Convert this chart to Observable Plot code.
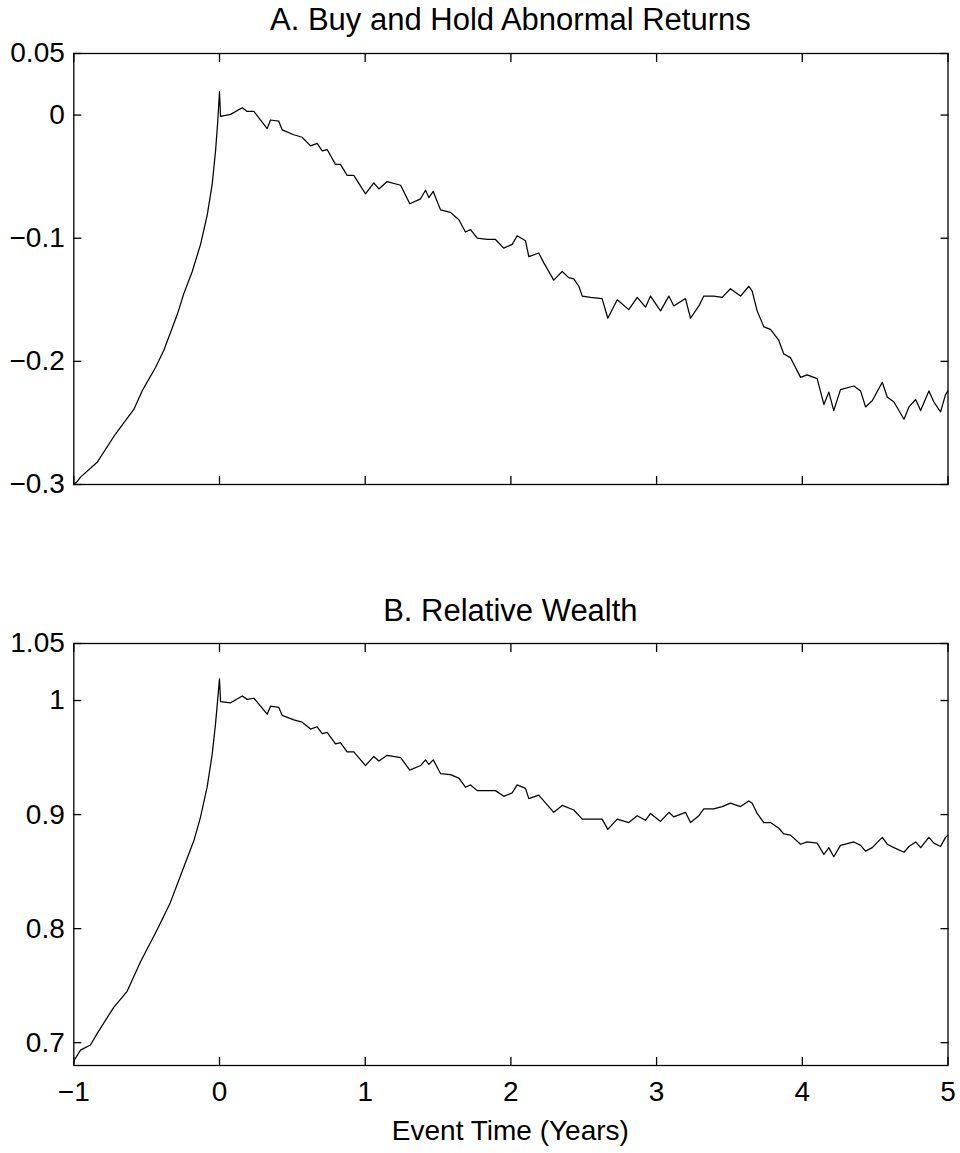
<!DOCTYPE html>
<html>
<head>
<meta charset="utf-8">
<script src="https://cdn.jsdelivr.net/npm/d3@7"></script>
<script src="https://cdn.jsdelivr.net/npm/@observablehq/plot@0.6"></script>
<style>
  body { margin: 0; background: #fff; }
  #wrap { position: relative; width: 960px; height: 1153px; font-family: 'Liberation Sans', Arial, sans-serif; color: #000; background: #fff; }
  .ttl { position: absolute; left: 73.3px; width: 874.2px; text-align: center; font-size: 31px; line-height: 31px; white-space: nowrap; z-index: 2; }
  .panel { position: absolute; left: 0; z-index: 1; }
</style>
</head>
<body>
<div id="wrap">
  <div class="ttl" id="titleA" style="top:4px"></div>
  <div class="panel" id="panelA" style="top:40px"></div>
  <div class="ttl" id="titleB" style="top:595px"></div>
  <div class="panel" id="panelB" style="top:620px"></div>
  <div class="ttl" id="xlabel" style="top:1117px; font-size:28px; line-height:28px"></div>
</div>
<script>
// ---- text ----
const titleA = "A. Buy and Hold Abnormal Returns";
const titleB = "B. Relative Wealth";
const xLabel = "Event Time (Years)";

// ---- ticks ----
const xTicks = [-1, 0, 1, 2, 3, 4, 5];
const xTickLabels = ["\u22121", "0", "1", "2", "3", "4", "5"];
const yTicksA = [-0.3, -0.2, -0.1, 0, 0.05];
const yTickLabelsA = ["\u22120.3", "\u22120.2", "\u22120.1", "0", "0.05"];
const yTicksB = [0.7, 0.8, 0.9, 1, 1.05];
const yTickLabelsB = ["0.7", "0.8", "0.9", "1", "1.05"];

// ---- Panel A: buy and hold abnormal returns ----
const timeA = [-1.00,-0.98,-0.954,-0.84,-0.714,-0.588,-0.531,-0.439,-0.382,-0.29,-0.245,-0.187,-0.130,-0.084,-0.05,-0.027,-0.012,0.0,
  0.007,0.076,0.156,0.19,0.236,0.327,0.35,0.407,0.430,0.51,0.567,0.625,0.67,0.705,0.739,0.796,0.83,0.876,0.922,
  1.002,1.059,1.094,1.151,1.243,1.306,1.38,1.414,1.437,1.467,1.517,1.585,1.643,1.688,1.723,1.769,1.837,1.894,1.951,
  2.009,2.043,2.1,2.123,2.191,2.226,2.294,2.352,2.397,2.432,2.466,2.49,2.546,2.626,2.665,2.73,2.809,2.867,2.924,2.958,
  3.027,3.084,3.118,3.198,3.233,3.29,3.324,3.392,3.45,3.507,3.576,3.633,3.656,3.690,3.736,3.782,3.839,3.873,3.919,3.988,
  4.033,4.102,4.148,4.182,4.216,4.262,4.354,4.40,4.434,4.48,4.549,4.583,4.629,4.698,4.732,4.778,4.812,4.869,4.903,4.949,4.983,5.0];
const bharA = [-0.300,-0.298,-0.294,-0.282,-0.259,-0.239,-0.224,-0.205,-0.191,-0.162,-0.145,-0.127,-0.105,-0.081,-0.056,-0.029,-0.005,0.019,
  -0.001,0.0006,0.006,0.003,0.003,-0.011,-0.004,-0.005,-0.012,-0.016,-0.018,-0.025,-0.023,-0.029,-0.028,-0.040,-0.040,-0.049,-0.049,
  -0.064,-0.055,-0.060,-0.054,-0.057,-0.072,-0.068,-0.061,-0.067,-0.062,-0.077,-0.079,-0.085,-0.095,-0.093,-0.100,-0.101,-0.101,-0.108,
  -0.105,-0.098,-0.102,-0.115,-0.112,-0.120,-0.134,-0.127,-0.132,-0.133,-0.139,-0.147,-0.148,-0.149,-0.165,-0.150,-0.158,-0.148,-0.156,-0.147,
  -0.159,-0.147,-0.155,-0.149,-0.165,-0.155,-0.147,-0.147,-0.148,-0.141,-0.147,-0.139,-0.143,-0.159,-0.172,-0.174,-0.183,-0.194,-0.197,-0.213,
  -0.211,-0.214,-0.235,-0.225,-0.240,-0.223,-0.220,-0.224,-0.237,-0.232,-0.217,-0.229,-0.233,-0.247,-0.237,-0.231,-0.240,-0.224,-0.233,-0.241,-0.227,-0.224];

// ---- Panel B: relative wealth ----
const timeB = [-1.0,-0.995,-0.954,-0.886,-0.84,-0.726,-0.634,-0.542,-0.428,-0.337,-0.245,-0.176,-0.130,-0.085,-0.05,-0.027,0.0,
  0.007,0.076,0.156,0.19,0.236,0.327,0.35,0.407,0.430,0.51,0.567,0.625,0.67,0.705,0.739,0.796,0.83,0.876,0.922,
  1.002,1.059,1.094,1.151,1.243,1.306,1.38,1.414,1.437,1.467,1.517,1.585,1.643,1.688,1.723,1.769,1.837,1.894,1.951,
  2.009,2.043,2.1,2.123,2.191,2.294,2.352,2.432,2.49,2.546,2.626,2.665,2.73,2.809,2.867,2.924,2.958,
  3.027,3.084,3.118,3.198,3.233,3.29,3.324,3.392,3.45,3.507,3.576,3.633,3.656,3.690,3.736,3.782,3.839,3.873,3.919,3.988,
  4.033,4.102,4.148,4.182,4.216,4.262,4.354,4.40,4.434,4.48,4.549,4.583,4.629,4.698,4.732,4.778,4.812,4.869,4.903,4.949,4.983,5.0];
const wealthB = [0.682,0.685,0.6935,0.698,0.708,0.731,0.745,0.771,0.799,0.823,0.854,0.877,0.898,0.924,0.953,0.980,1.019,
  0.999,0.998,1.004,1.001,1.002,0.988,0.995,0.994,0.987,0.983,0.981,0.975,0.977,0.971,0.972,0.962,0.963,0.955,0.955,
  0.943,0.951,0.947,0.952,0.950,0.939,0.943,0.948,0.944,0.948,0.936,0.935,0.932,0.924,0.926,0.921,0.921,0.921,0.916,
  0.919,0.926,0.923,0.914,0.917,0.902,0.908,0.904,0.896,0.896,0.896,0.887,0.896,0.893,0.899,0.895,0.901,
  0.894,0.902,0.898,0.902,0.893,0.899,0.905,0.905,0.907,0.910,0.907,0.912,0.910,0.901,0.893,0.893,0.888,0.883,0.882,0.874,
  0.876,0.875,0.865,0.871,0.863,0.873,0.876,0.873,0.868,0.871,0.880,0.874,0.871,0.867,0.872,0.876,0.871,0.880,0.875,0.872,0.880,0.882];

document.getElementById("titleA").textContent = titleA;
document.getElementById("titleB").textContent = titleB;
document.getElementById("xlabel").textContent = xLabel;

const fontStyle = {fontFamily: "'Liberation Sans', Arial, sans-serif", fontSize: "28px", color: "#000", background: "transparent", overflow: "visible"};
const lw = 1.3;

function panel({times, values, yDomain, yTicks, yLabels, showX, height, marginTop, marginBottom}) {
  const idx = d3.range(times.length);
  const marks = [
    Plot.frame({stroke: "#000", strokeWidth: lw}),
    Plot.axisY(yTicks, {anchor: "left", tickSize: 0, tickPadding: 9, label: null,
      tickFormat: d => yLabels[yTicks.indexOf(d)]}),
    Plot.axisY(yTicks, {anchor: "left", tickSize: -8, text: null, label: null, strokeWidth: lw}),
    Plot.axisY(yTicks, {anchor: "right", tickSize: -8, text: null, label: null, strokeWidth: lw}),
    Plot.axisX(xTicks, {anchor: "bottom", tickSize: -8, text: null, label: null, strokeWidth: lw}),
    Plot.axisX(xTicks, {anchor: "top", tickSize: -8, text: null, label: null, strokeWidth: lw}),
    Plot.line(idx, {x: i => times[i], y: i => values[i], stroke: "#000", strokeWidth: 1.25})
  ];
  if (showX) {
    marks.push(Plot.axisX(xTicks, {anchor: "bottom", tickSize: 0, tickPadding: 16, label: null,
      tickFormat: d => xTickLabels[xTicks.indexOf(d)]}));
  }
  return Plot.plot({
    width: 960, height, marginLeft: 73.3, marginRight: 12.5, marginTop, marginBottom,
    x: {domain: [-1, 5]},
    y: {domain: yDomain},
    style: fontStyle,
    marks
  });
}

document.getElementById("panelA").appendChild(panel({
  times: timeA, values: bharA, yDomain: [-0.3, 0.05], yTicks: yTicksA, yLabels: yTickLabelsA,
  showX: false, height: 454, marginTop: 13, marginBottom: 10
}));
document.getElementById("panelB").appendChild(panel({
  times: timeB, values: wealthB, yDomain: [0.68, 1.05], yTicks: yTicksB, yLabels: yTickLabelsB,
  showX: true, height: 490, marginTop: 23, marginBottom: 45
}));
</script>
</body>
</html>
